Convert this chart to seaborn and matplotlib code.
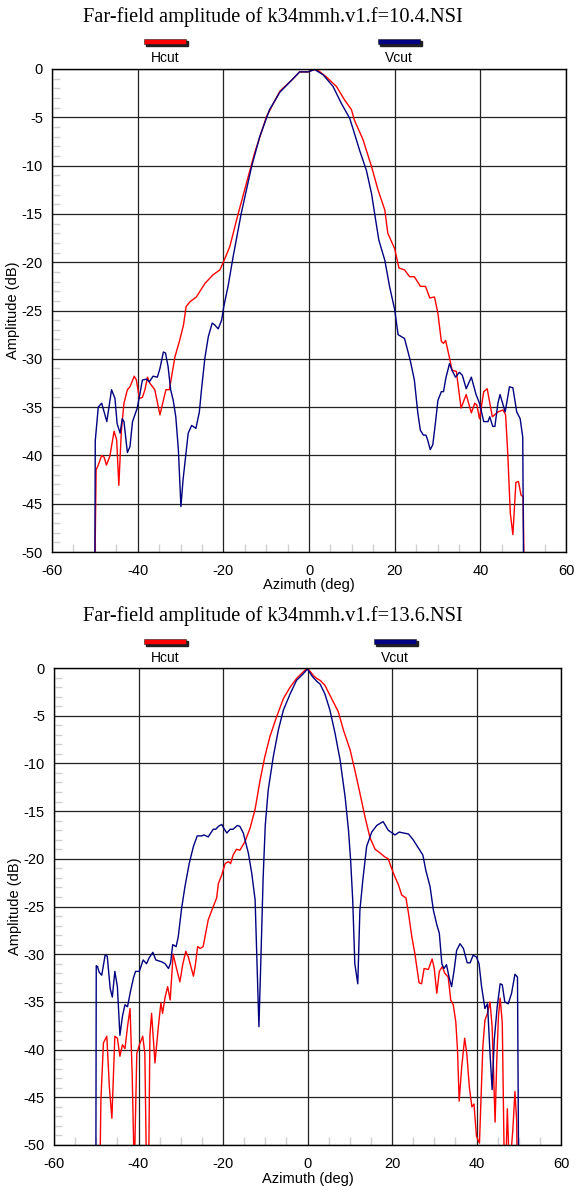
import numpy as np
import pandas as pd
import seaborn as sns
import matplotlib.pyplot as plt
from matplotlib.patches import Rectangle
from matplotlib.ticker import MultipleLocator

# ---- data: azimuth (deg) / amplitude (dB) ----
# 10.4 GHz
h1_az = [-50.0, -49.7, -49.2, -48.4, -47.8, -47.3, -46.5, -45.5, -44.9, -44.4, -43.8, -43.2,
         -42.4, -41.8, -40.8, -40.3, -39.6, -38.9, -38.3, -37.7, -37.2, -36.0, -34.8, -34.0,
         -33.4, -32.6, -31.3, -30.2, -29.3, -28.7, -27.8, -26.3, -24.3, -22.4, -20.8, -19.9,
         -18.5, -16.6, -14.6, -12.7, -9.9, -6.8, -3.7, -2.2, -0.2, 0.9, 1.7, 4.0, 6.4, 8.3,
         9.9, 10.6, 12.6, 14.6, 16.1, 17.7, 18.4, 20.0, 21.0, 22.3, 23.5, 24.6, 26.0, 27.2,
         28.2, 29.3, 30.1, 30.9, 31.4, 31.9, 32.8, 33.4, 34.4, 35.5, 36.7, 37.9, 38.7, 39.2,
         39.8, 40.8, 41.6, 42.8, 44.1, 45.3, 45.9, 46.4, 47.0, 47.6, 48.3, 48.9, 49.5, 50.0, 50.2]
h1_db = [-52, -41.5, -41.0, -40.0, -40.2, -41.0, -40.1, -37.5, -38.4, -43.1, -37.4, -34.6,
         -33.2, -32.9, -31.8, -32.2, -34.1, -34.0, -33.2, -31.9, -32.5, -33.2, -35.8, -34.3,
         -33.2, -33.2, -29.8, -28.1, -26.5, -24.6, -24.1, -23.6, -22.2, -21.3, -20.8, -19.9,
         -18.4, -15.1, -11.8, -8.7, -4.9, -2.3, -1.0, -0.3, -0.3, -0.1, 0.0, -0.8, -1.8, -3.2,
         -4.2, -5.3, -7.3, -10.1, -12.5, -14.6, -17.0, -18.6, -20.6, -20.8, -21.5, -21.5, -22.5, -22.5,
         -23.7, -23.6, -25.3, -28.2, -28.4, -28.1, -29.9, -31.2, -31.3, -35.1, -33.7, -35.6, -34.6, -34.8,
         -36.2, -33.4, -33.1, -36.0, -35.5, -35.3, -35.8, -39.8, -46.0, -48.2, -42.8, -42.7, -44.1, -44.3, -52]

v1_az = [-50.0, -49.9, -49.2, -48.4, -47.2, -46.1, -45.3, -44.8, -44.1, -43.6, -43.2, -42.4,
         -41.8, -41.2, -40.1, -39.5, -38.9, -37.9, -37.3, -36.4, -35.4, -34.8, -34.0, -33.5,
         -32.9, -32.3, -31.7, -31.1, -30.5, -29.9, -29.4, -28.8, -28.2, -27.4, -26.4, -25.6,
         -25.1, -24.3, -23.5, -22.6, -22.0, -21.2, -20.4, -19.9, -18.9, -17.7, -15.8, -13.4,
         -11.5, -9.2, -6.8, -3.7, -2.2, -0.2, 1.3, 3.3, 5.6, 7.6, 9.5, 10.7, 11.8, 13.4, 14.6,
         15.3, 16.3, 17.7, 18.8, 20.0, 20.8, 22.3, 23.6, 24.6, 25.4, 26.0, 26.7, 27.3, 27.7,
         28.3, 28.9, 29.5, 30.1, 30.9, 31.4, 32.0, 32.8, 33.4, 34.2, 35.1, 35.8, 36.7, 37.9,
         39.0, 39.8, 40.8, 41.8, 42.2, 42.9, 43.4, 44.1, 44.6, 45.8, 46.8, 47.6, 48.5, 49.3, 49.9, 50.1]
v1_db = [-52, -38.5, -35.0, -34.6, -36.5, -33.2, -34.1, -36.7, -37.7, -36.2, -36.5, -39.7,
         -39.1, -36.5, -35.1, -33.7, -32.2, -32.1, -32.4, -31.8, -31.9, -31.0, -29.3, -29.4,
         -30.8, -33.2, -34.3, -36.0, -39.4, -45.3, -42.5, -40.1, -37.7, -36.9, -37.2, -35.5,
         -33.2, -29.9, -27.7, -26.3, -26.5, -26.9, -26.0, -24.6, -22.5, -19.4, -14.9, -10.1,
         -7.0, -4.2, -2.4, -1.0, -0.3, -0.3, -0.05, -0.6, -1.8, -3.6, -5.1, -6.8, -8.4, -10.5, -12.9,
         -14.9, -17.7, -19.8, -22.5, -24.9, -27.5, -27.9, -30.1, -32.2, -35.6, -37.4, -37.9, -37.9, -38.4,
         -39.4, -38.9, -36.7, -34.3, -33.4, -33.4, -31.9, -30.5, -31.2, -31.9, -31.4, -31.7, -33.1, -31.9,
         -33.7, -34.6, -36.5, -36.5, -36.0, -37.0, -37.0, -34.6, -33.7, -35.5, -32.9, -33.0, -35.5, -36.2, -38.1, -52]

# 13.6 GHz
h2_az = [-49.2, -48.9, -48.3, -47.5, -46.9, -46.3, -45.6, -45.0, -44.4, -43.8, -43.2, -42.6,
         -42.0, -41.5, -41.0, -40.4, -39.8, -39.0, -38.5, -38.1, -37.6, -37.3, -36.9, -36.1,
         -35.3, -34.7, -34.3, -33.7, -33.1, -32.5, -31.8, -31.0, -30.2, -29.5, -28.8, -28.2,
         -27.6, -27.0, -26.6, -26.0, -25.4, -24.7, -24.0, -23.5, -22.9, -22.3, -21.5, -21.1,
         -20.3, -19.5, -18.7, -18.2, -17.6, -16.8, -16.0, -14.8, -13.6, -12.4, -11.2, -10.1,
         -8.9, -7.3, -5.7, -4.1, -2.6, -1.0, 0.0, 1.4, 2.2, 3.0, 4.1, 5.7, 7.3, 8.5, 10.1,
         11.2, 12.4, 13.6, 14.8, 16.0, 17.2, 18.3, 19.1, 19.9, 20.7, 21.5, 22.3, 23.3, 23.9,
         24.7, 25.4, 26.4, 27.0, 27.6, 28.6, 29.0, 29.5, 30.0, 30.6, 31.2, 31.9, 32.5, 33.3,
         33.9, 34.5, 35.1, 35.5, 35.9, 36.5, 37.2, 37.7, 38.3, 38.9, 39.4, 40.0, 40.7, 41.1,
         41.5, 42.0, 42.6, 43.2, 43.7, 44.4, 44.8, 45.2, 45.6, 46.1, 46.5, 46.9, 47.3, 47.8,
         48.6, 49.1, 49.5, 49.7]
h2_db = [-55, -45.3, -39.3, -38.6, -43.9, -47.2, -38.6, -38.8, -40.7, -39.5, -39.9, -37.6,
         -35.7, -42.5, -53, -40.4, -39.5, -38.6, -40.4, -53, -53, -38.5, -36.2, -41.4,
         -37.6, -35.1, -36.2, -34.5, -33.4, -34.8, -30.0, -31.5, -32.9, -31.0, -29.7, -30.3,
         -31.3, -32.3, -31.3, -29.2, -29.4, -29.2, -27.6, -26.4, -25.7, -25.0, -24.1, -22.6,
         -21.7, -20.5, -20.3, -20.5, -19.6, -19.0, -19.1, -18.2, -16.8, -14.8, -11.7, -9.3,
         -7.2, -5.1, -3.2, -2.0, -1.1, -0.4, 0.0, -0.8, -1.1, -1.3, -1.8, -3.2, -4.6, -6.5, -8.6,
         -10.7, -13.1, -15.6, -17.8, -19.0, -19.4, -19.8, -20.0, -21.0, -21.9, -22.7, -23.8, -24.1, -25.7,
         -28.2, -29.9, -33.0, -33.1, -31.5, -31.6, -31.1, -30.5, -31.5, -34.1, -31.8, -31.3, -32.0, -32.4,
         -34.8, -35.3, -37.1, -40.0, -45.4, -41.8, -38.8, -40.4, -43.9, -46.0, -45.7, -49.1, -49.8, -44.6,
         -39.7, -36.9, -36.2, -35.0, -37.6, -47.6, -41.1, -36.5, -34.6, -37.2, -49.8, -53, -46.2, -53,
         -48.4, -44.4, -47.4, -55]

v2_az = [-50.1, -50.0, -49.7, -49.3, -48.7, -47.9, -47.4, -46.7, -46.2, -45.6, -45.0, -44.4,
         -43.8, -43.2, -42.6, -41.9, -41.2, -40.7, -39.8, -38.9, -38.1, -37.5, -36.6, -35.9,
         -34.5, -33.7, -32.9, -32.4, -31.9, -31.1, -30.6, -29.8, -29.0, -28.0, -27.0, -26.1,
         -25.0, -24.5, -23.5, -22.9, -22.3, -21.7, -21.1, -20.3, -19.8, -19.1, -18.3, -17.6,
         -16.6, -16.0, -15.2, -14.0, -13.2, -12.4, -12.0, -11.5, -11.0, -10.5, -10.0, -9.3,
         -8.1, -6.9, -5.7, -4.1, -2.6, -1.0, 0.0, 1.0, 2.2, 3.0, 4.1, 5.3, 6.5, 7.7, 8.9, 9.7,
         10.2, 10.7, 11.2, 11.9, 12.4, 13.1, 14.0, 15.2, 16.4, 17.9, 19.1, 20.7, 21.7, 22.8,
         23.9, 25.0, 26.0, 27.3, 28.0, 29.0, 29.8, 30.6, 31.2, 31.8, 32.3, 32.9, 33.5, 34.1,
         34.7, 35.3, 36.1, 36.9, 37.8, 38.5, 39.2, 40.0, 40.6, 41.2, 42.0, 42.6, 43.2, 43.7,
         44.2, 44.9, 45.6, 46.1, 46.7, 47.5, 48.3, 49.1, 49.7, 50.0]
v2_db = [-55, -31.2, -31.3, -31.9, -32.2, -30.1, -30.2, -33.6, -34.5, -31.8, -33.4, -38.5,
         -36.5, -35.3, -35.5, -33.9, -32.5, -31.8, -31.8, -30.6, -31.0, -30.4, -29.8, -30.6,
         -30.8, -31.0, -31.5, -30.9, -29.0, -29.2, -28.2, -25.2, -22.9, -20.5, -18.7, -17.6,
         -17.6, -17.5, -17.7, -17.3, -16.9, -16.9, -16.6, -16.4, -16.8, -17.3, -16.9, -16.9,
         -16.5, -16.6, -17.3, -19.4, -21.5, -24.3, -30.3, -37.6, -30.0, -22.0, -16.5, -12.8,
         -9.3, -6.5, -4.4, -2.7, -1.3, -0.6, -0.1, -0.8, -1.4, -1.7, -2.7, -4.4, -6.8, -9.6, -13.5, -17.0,
         -20.1, -24.3, -31.0, -33.1, -25.4, -22.2, -18.7, -17.2, -16.5, -16.1, -17.0, -17.5, -17.2, -17.3,
         -17.4, -18.0, -18.7, -19.6, -21.2, -22.9, -25.4, -26.9, -27.8, -31.0, -31.5, -31.1, -32.4, -33.4,
         -31.7, -29.6, -28.9, -29.4, -30.9, -30.9, -30.1, -30.3, -31.0, -33.4, -35.7, -35.2, -40.4, -44.2,
         -39.0, -35.5, -33.1, -33.2, -35.0, -35.2, -34.1, -32.1, -32.4, -55]

titles = ["Far-field amplitude of k34mmh.v1.f=10.4.NSI",
          "Far-field amplitude of k34mmh.v1.f=13.6.NSI"]
series_names = ["Hcut", "Vcut"]
colors = {"Hcut": "#ff0000", "Vcut": "#000080"}

sns.set_style("white")
plt.rcParams["font.family"] = ["Liberation Sans", "DejaVu Sans"]
plt.rcParams["axes.unicode_minus"] = False
for k in ["text.color", "axes.labelcolor", "xtick.color", "ytick.color"]:
    plt.rcParams[k] = "black"

W, H = 575, 1187
fig = plt.figure(figsize=(W / 100, H / 100), dpi=100)

# axes boxes in pixels: left, right, top, bottom
boxes = [(52, 566, 69, 552), (54, 561, 668, 1145)]
title_y = [17, 616]
legend_y = [40, 640]
legend_x = [(144, 186), (378, 420)], [(144, 186), (374, 416)]
data = [(h1_az, h1_db, v1_az, v1_db), (h2_az, h2_db, v2_az, v2_db)]

for i in range(2):
    l, r, t, b = boxes[i]
    ax = fig.add_axes([l / W, 1 - b / H, (r - l) / W, (b - t) / H])
    ha, hd, va, vd = data[i]
    df = pd.concat([
        pd.DataFrame({"az": ha, "db": hd, "cut": "Hcut"}),
        pd.DataFrame({"az": va, "db": vd, "cut": "Vcut"}),
    ])
    for name in series_names:
        sub = df[df["cut"] == name]
        sns.lineplot(data=sub, x="az", y="db", color=colors[name], linewidth=1.0,
                     estimator=None, sort=False, ax=ax, legend=False)

    ax.set_xlim(-60, 60)
    ax.set_ylim(-50, 0)
    ax.xaxis.set_major_locator(MultipleLocator(20))
    ax.xaxis.set_minor_locator(MultipleLocator(5))
    ax.yaxis.set_major_locator(MultipleLocator(5))
    ax.yaxis.set_minor_locator(MultipleLocator(1))
    ax.grid(True, which="major", color="#222222", linewidth=0.9)
    ax.tick_params(axis="y", which="major", direction="out", length=6, width=0.8,
                   color="black", labelsize=10.5, pad=0.5)
    ax.tick_params(axis="x", which="major", direction="out", length=4, width=0.8,
                   color="black", labelsize=10.5, pad=5)
    ax.tick_params(which="minor", direction="in", length=6, width=1.0,
                   color="#d0d0d0", left=True, bottom=True)
    for sp in ax.spines.values():
        sp.set_color("black")
        sp.set_linewidth(1.0)
    ax.set_xlabel("Azimuth (deg)", fontsize=10.5, labelpad=0)
    ax.set_ylabel("Amplitude (dB)", fontsize=10.5, labelpad=1)

    fig.text(273 / W, 1 - title_y[i] / H, titles[i], ha="center", va="center",
             fontsize=14.7, family=["Liberation Serif", "DejaVu Serif"])

    for (x0, x1), name in zip(legend_x[i], series_names):
        yb = legend_y[i]
        # shadow then bar
        fig.patches.append(Rectangle(((x0 + 1.5) / W, 1 - (yb + 5.5) / H), (x1 - x0) / W, 5 / H,
                                     transform=fig.transFigure, color="#202020", zorder=2))
        fig.patches.append(Rectangle((x0 / W, 1 - (yb + 4) / H), (x1 - x0) / W, 5 / H,
                                     transform=fig.transFigure, facecolor=colors[name],
                                     edgecolor="#202020", linewidth=0.4, zorder=3))
        fig.text((x0 + x1) / 2 / W, 1 - (yb + 18) / H, name, ha="center", va="center", fontsize=10)

fig.savefig("out.png", dpi=100)
